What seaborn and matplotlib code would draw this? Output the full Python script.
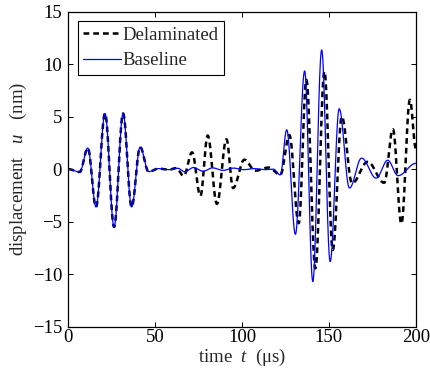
import numpy as np
import pandas as pd
import matplotlib
matplotlib.use("Agg")
import matplotlib.pyplot as plt
import seaborn as sns

# Extrema (time in µs, displacement in nm)
base_t = [0, 6.5, 11.2, 15.9, 21.1, 26.3, 31.5, 36.4, 41.3, 46.2, 52, 58, 63, 67, 72, 77.5,
          83, 89, 95, 101, 107, 113, 118, 122, 125.7, 130.7, 136, 140.7, 145.8, 150.7,
          155.9, 161.8, 168.8, 177.2, 183.8, 189.8, 200]
base_u = [0, -0.27, 2.0, -3.6, 5.3, -5.5, 5.3, -3.6, 2.1, -0.24, 0.05, -0.05, 0.08, -0.25,
          0.15, -0.2, 0.12, -0.12, 0.1, -0.05, 0.05, -0.05, 0.0, -0.55, 3.75, -6.2, 9.35,
          -10.7, 11.35, -8.8, 5.75, -1.8, 1.05, -0.86, 0.85, -0.62, 0.55]

del_t = [0, 6.5, 11.2, 15.9, 21.1, 26.3, 31.5, 36.4, 41.3, 46.2, 52, 58, 62, 66.4, 71.2,
         76, 80.2, 85.5, 91, 94.8, 101.3, 107.6, 115.3, 122, 127.2, 132.6, 137, 142.2,
         147.4, 152.2, 157.4, 163.3, 172.3, 181.8, 186.8, 191.7, 196.6, 200]
del_u = [0, -0.27, 2.0, -3.6, 5.3, -5.5, 5.3, -3.6, 2.1, -0.24, 0.05, -0.05, 0.1, -0.65,
         1.6, -2.55, 3.2, -3.3, 2.85, -1.8, 0.9, -0.15, 0.15, -0.55, 3.25, -5.15, 8.5,
         -9.45, 9.3, -7.7, 5.0, -1.35, 0.7, -1.3, 3.8, -5.2, 6.6, 2.0]

series_names = ["Delaminated", "Baseline"]
x_ticks = [0, 50, 100, 150, 200]
y_ticks = [-15, -10, -5, 0, 5, 10, 15]


def smooth_curve(tk, uk, n=40):
    """Join consecutive extrema with half-cosine segments (rendering only)."""
    ts, us = [], []
    for i in range(len(tk) - 1):
        s = np.linspace(0, 1, n, endpoint=False)
        ts.append(tk[i] + (tk[i + 1] - tk[i]) * s)
        us.append(uk[i] + (uk[i + 1] - uk[i]) * (1 - np.cos(np.pi * s)) / 2)
    ts.append([tk[-1]])
    us.append([uk[-1]])
    return np.concatenate(ts), np.concatenate(us)


t1, u1 = smooth_curve(del_t, del_u)
t2, u2 = smooth_curve(base_t, base_u)
df = pd.concat([
    pd.DataFrame({"t": t1, "u": u1, "series": series_names[0]}),
    pd.DataFrame({"t": t2, "u": u2, "series": series_names[1]}),
])

sns.set_style("ticks")
plt.rcParams["font.family"] = ["Liberation Serif", "DejaVu Serif"]
plt.rcParams["mathtext.fontset"] = "custom"
plt.rcParams["mathtext.it"] = "Liberation Serif:italic"
plt.rcParams["mathtext.rm"] = "Liberation Serif"

FS = 13.5
fig = plt.figure(figsize=(4.30, 3.74), dpi=100)
ax = fig.add_axes([0.159, 0.1265, 0.808, 0.8425])

sns.lineplot(data=df[df.series == series_names[0]], x="t", y="u", ax=ax, color="black",
             lw=1.8, linestyle=(0, (2.3, 1.6)), label=series_names[0], sort=False,
             estimator=None)
sns.lineplot(data=df[df.series == series_names[1]], x="t", y="u", ax=ax, color="#0000ff",
             lw=0.9, label=series_names[1], sort=False, estimator=None)

ax.set_xlim(0, 200)
ax.set_ylim(-15, 15)
ax.set_xticks(x_ticks)
ax.set_yticks(y_ticks)
ax.set_yticklabels(["\u221215", "\u221210", "\u22125", "0", "5", "10", "15"])
ax.tick_params(direction="in", top=True, right=True, length=3.5, width=0.7,
               labelsize=FS, colors="black")
ax.tick_params(axis="x", pad=2)
ax.tick_params(axis="y", pad=4.5)
for sp in ax.spines.values():
    sp.set_linewidth(0.9)
    sp.set_color("black")

ax.set_xlabel(r"time  $t$  ($\mathrm{\mu}$s)", fontsize=FS, labelpad=0)
ax.set_ylabel(r"displacement   $u$   (nm)", fontsize=FS, labelpad=3)

leg = ax.legend(loc="upper left", fontsize=FS, frameon=True, fancybox=False,
                edgecolor="black", framealpha=1, handlelength=2.0, handletextpad=0.1,
                borderpad=0.3, labelspacing=0.45, borderaxespad=0.5)
leg.get_frame().set_linewidth(0.8)

fig.savefig("out.png", dpi=100)
